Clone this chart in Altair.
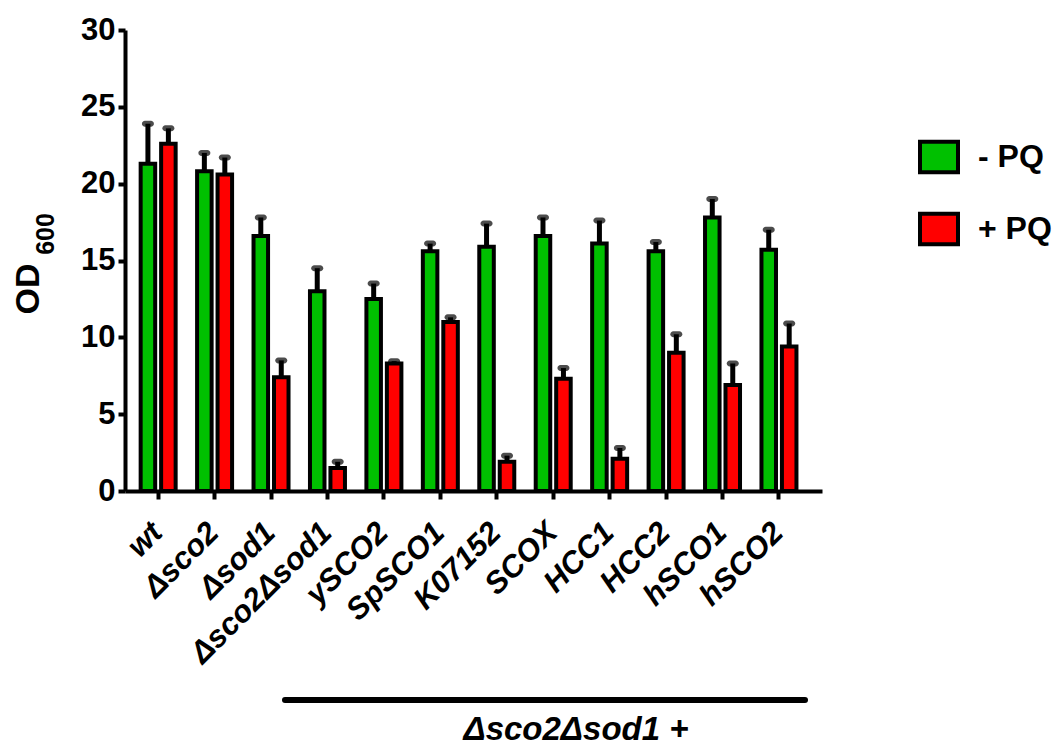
import altair as alt
import pandas as pd

categories = ["wt", "Δsco2", "Δsod1", "Δsco2Δsod1", "ySCO2", "SpSCO1",
              "K07152", "SCOX", "HCC1", "HCC2", "hSCO1", "hSCO2"]
series = ["- PQ", "+ PQ"]
minus_pq = [21.3, 20.8, 16.6, 13.0, 12.5, 15.6, 15.9, 16.6, 16.1, 15.6, 17.8, 15.7]
minus_pq_sem = [2.6, 1.2, 1.2, 1.5, 1.0, 0.5, 1.5, 1.2, 1.5, 0.6, 1.2, 1.3]
plus_pq = [22.6, 20.6, 7.4, 1.5, 8.3, 11.0, 1.9, 7.3, 2.1, 9.0, 6.9, 9.4]
plus_pq_sem = [1.0, 1.1, 1.1, 0.4, 0.15, 0.3, 0.4, 0.7, 0.7, 1.2, 1.4, 1.5]
y_ticks = [0, 5, 10, 15, 20, 25, 30]
colors = ["#00C000", "#FF0000"]

rows = []
for i, c in enumerate(categories):
    rows.append({"category": c, "series": series[0], "value": minus_pq[i],
                 "top": minus_pq[i] + minus_pq_sem[i]})
    rows.append({"category": c, "series": series[1], "value": plus_pq[i],
                 "top": plus_pq[i] + plus_pq_sem[i]})
df = pd.DataFrame(rows)
one = pd.DataFrame({"a": [0]})

FONT = "Liberation Sans"

x_enc = alt.X("category:N", sort=categories,
              scale=alt.Scale(paddingInner=0.38, paddingOuter=0.365, align=0.38),
              axis=alt.Axis(title=None, labelAngle=-45, labelAlign="right",
                            labelBaseline="top", labelFont=FONT, labelFontSize=31,
                            labelFontWeight="bold", labelFontStyle="italic",
                            labelColor="black", labelPadding=18, labelOffset=-11,
                            labelLimit=400,
                            labelOverlap=False, labelFlush=False, labelBound=False,
                            tickSize=8, tickWidth=4, tickColor="black",
                            domainWidth=4, domainColor="black", grid=False))
xo_enc = alt.XOffset("series:N", sort=series,
                     scale=alt.Scale(paddingInner=0.29, paddingOuter=0))
y_enc = alt.Y("value:Q", scale=alt.Scale(domain=[0, 30], nice=False),
              axis=alt.Axis(title=None, values=y_ticks, labelFont=FONT,
                            labelFontSize=31, labelFontWeight="bold",
                            labelColor="black", labelPadding=3, tickSize=7,
                            tickWidth=4, tickColor="black", domainWidth=4,
                            domainColor="black", grid=False))

base = alt.Chart(df)

bars = base.mark_bar(stroke="black", strokeWidth=4).encode(
    x=x_enc, xOffset=xo_enc, y=y_enc,
    fill=alt.Fill("series:N", sort=series,
                  scale=alt.Scale(domain=series, range=colors),
                  legend=alt.Legend(title=None, orient="none", legendX=793, legendY=106,
                                    symbolType="M-1,-0.8L1,-0.8L1,0.8L-1,0.8Z",
                                    symbolSize=1444, symbolStrokeColor="black",
                                    symbolStrokeWidth=4, labelFont=FONT,
                                    labelFontSize=32, labelFontWeight="bold",
                                    labelColor="black", labelOffset=18,
                                    rowPadding=24, padding=0)),
)

err = base.mark_bar(size=5, color="black").encode(
    x=alt.X("category:N", sort=categories), xOffset=alt.XOffset("series:N", sort=series),
    y="value:Q", y2="top:Q",
)

caps = base.mark_tick(color="black", thickness=6, size=12, cornerRadius=3).encode(
    x=alt.X("category:N", sort=categories), xOffset=alt.XOffset("series:N", sort=series),
    y="top:Q",
)

line = alt.Chart(one).mark_rule(color="black", strokeWidth=6, strokeCap="round").encode(
    x=alt.value(160), x2=alt.value(680), y=alt.value(670)
)
group_text = alt.Chart(one).mark_text(
    text="Δsco2Δsod1 +", font=FONT, fontSize=33, fontWeight="bold",
    fontStyle="italic", align="center", baseline="alphabetic", color="black"
).encode(x=alt.value(451), y=alt.value(710))

od = alt.Chart(one).mark_text(
    text="OD", font=FONT, fontSize=34, fontWeight="bold", angle=270,
    align="center", baseline="alphabetic", color="black"
).encode(x=alt.value(-86), y=alt.value(259))
sub = alt.Chart(one).mark_text(
    text="600", font=FONT, fontSize=25, fontWeight="bold", angle=270,
    align="center", baseline="alphabetic", color="black"
).encode(x=alt.value(-71), y=alt.value(204))

chart = alt.layer(bars, err, caps, line, group_text, od, sub).properties(
    width=697, height=461,
    padding={"left": 117, "top": 22, "right": 234, "bottom": 258},
    autosize=alt.AutoSizeParams(type="none"),
).configure_view(stroke=None)

chart.save("out.html", embed_options={"renderer": "svg", "actions": False})
